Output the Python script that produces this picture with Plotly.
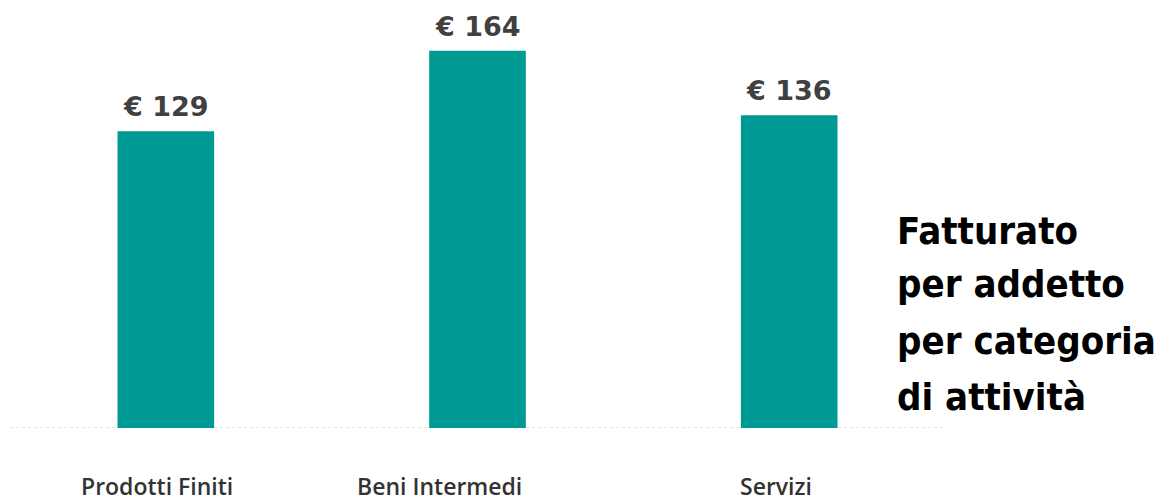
import plotly.graph_objects as go

categories = ["Prodotti Finiti", "Beni Intermedi", "Servizi"]
values = [129, 164, 136]
value_labels = ["€ 129", "€ 164", "€ 136"]
title_lines = ["Fatturato", "per addetto", "per categoria", "di attività"]

# styling
label_xshift = [-9, -38, -13]          # px offsets for category labels
title_bottoms_px = [247, 300, 357, 413]  # figure-pixel bottom of each title line
bar_color = "#009A95"

# page body has an 8px default margin, so the figure is sized to fit the window
W, H = 1160, 496
L, R, T, B = 2, 223, 6, 76
plot_w = W - L - R
plot_h = H - T - B

fig = go.Figure()
fig.add_trace(go.Bar(
    x=categories, y=values, marker=dict(color=bar_color, line=dict(width=0)),
    hoverinfo="skip", showlegend=False,
))

for c, v, t in zip(categories, values, value_labels):
    fig.add_annotation(x=c, y=v, xref="x", yref="y", text=t, showarrow=False,
                       yanchor="bottom", yshift=7,
                       font=dict(family="DejaVu Sans", size=27, color="#404040", weight="bold"))

for c, t, dx in zip(categories, categories, label_xshift):
    fig.add_annotation(x=c, y=0, xref="x", yref="paper", text=t, showarrow=False,
                       yanchor="top", yshift=-41, xshift=dx, borderpad=0,
                       font=dict(family="Open Sans", size=23, color="#333333", weight=600))

for line, yb in zip(title_lines, title_bottoms_px):
    fig.add_annotation(x=(887 - L) / plot_w, y=(T + plot_h - yb) / plot_h,
                       xref="paper", yref="paper", text=line,
                       showarrow=False, xanchor="left", yanchor="bottom", align="left",
                       font=dict(family="DejaVu Sans Condensed, DejaVu Sans", size=38,
                                 color="#000000", weight="bold"))

fig.add_shape(type="line", xref="paper", yref="y", x0=0, x1=1, y0=0, y1=0,
              line=dict(color="#c8c8c8", width=1, dash="dot"), layer="below")

fig.update_layout(
    width=W, height=H,
    margin=dict(l=L, r=R, t=T, b=B),
    paper_bgcolor="white", plot_bgcolor="white",
    bargap=0.69,
    xaxis=dict(range=[-0.5, 2.5], showticklabels=False, showgrid=False, zeroline=False, showline=False),
    yaxis=dict(range=[0, 180], visible=False, showgrid=False, zeroline=False),
)

fig.write_html("out.html")
